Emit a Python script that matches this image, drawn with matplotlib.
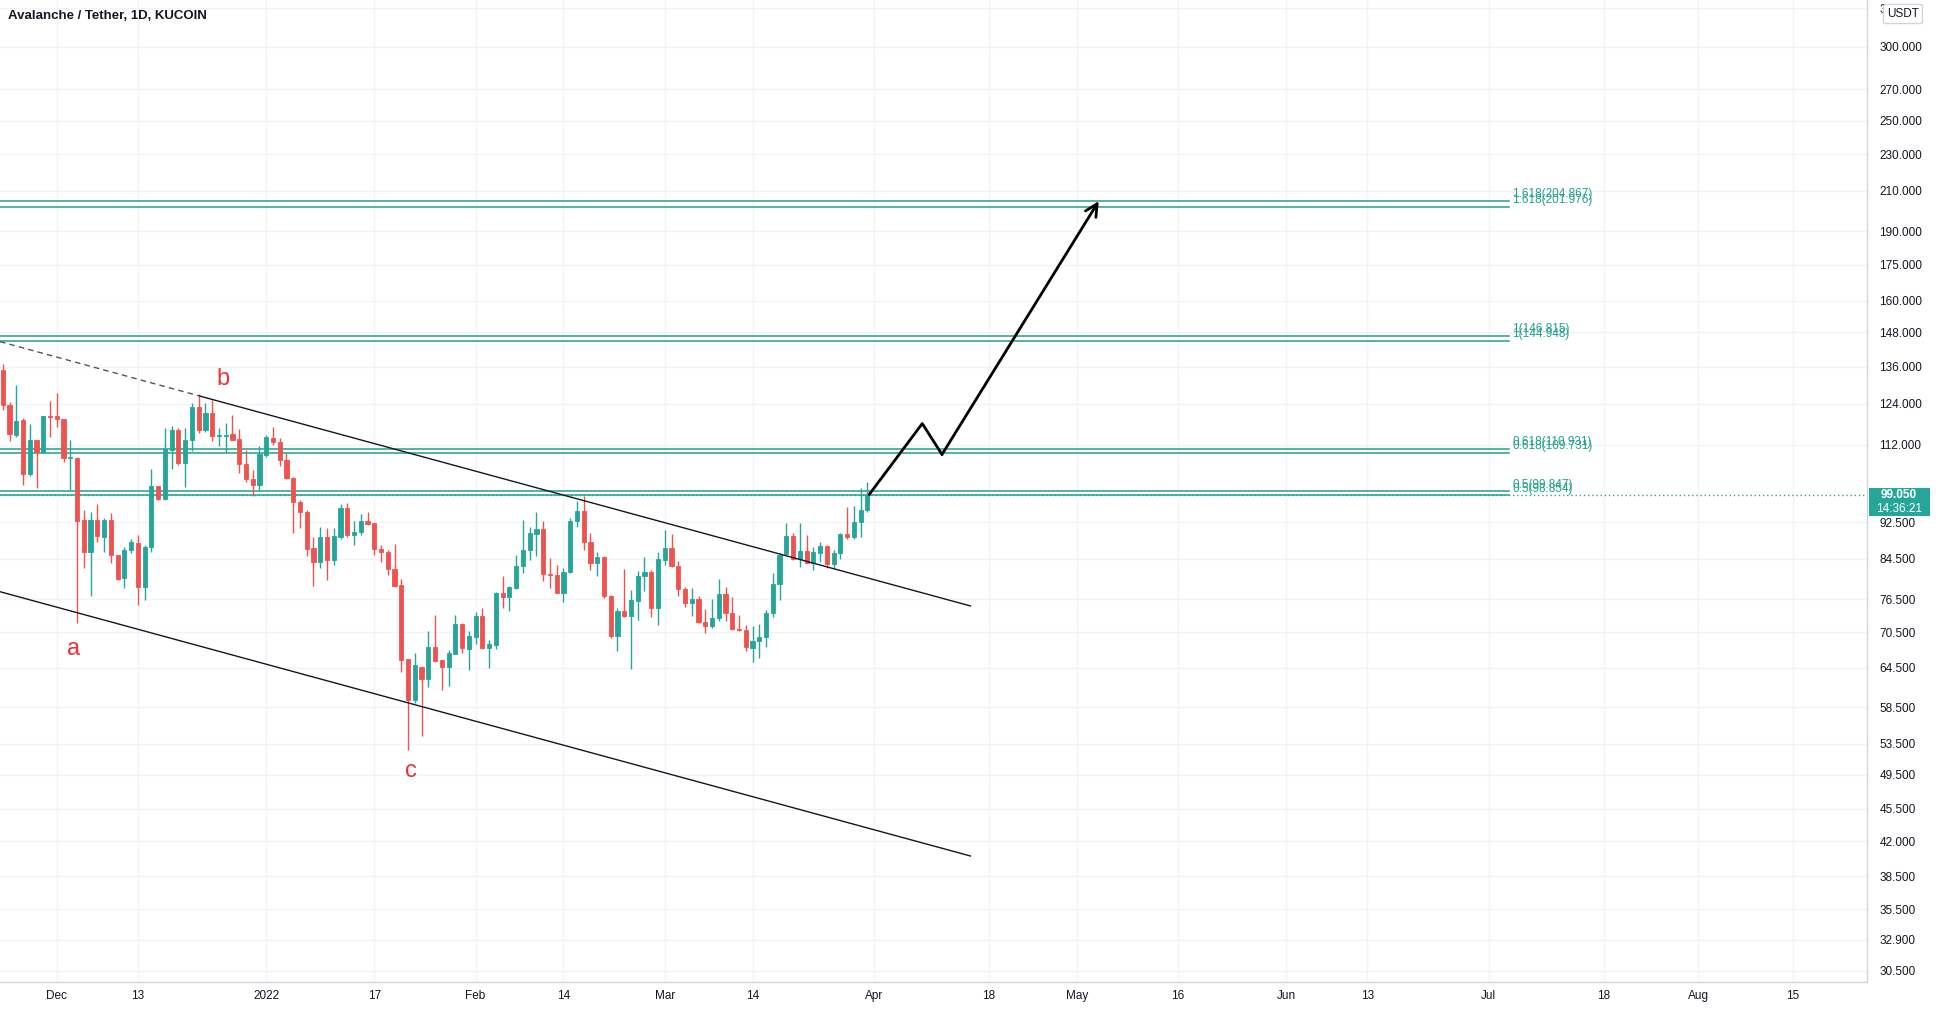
import matplotlib
matplotlib.use('Agg')
import matplotlib.pyplot as plt
import matplotlib.dates as mdates
from matplotlib.ticker import FixedLocator, NullLocator
from matplotlib.patches import Rectangle
import numpy as np
import pandas as pd

plt.rcParams['font.family'] = ['Liberation Sans', 'DejaVu Sans']

title = "Avalanche / Tether, 1D, KUCOIN"
start_date = "2021-11-23"

opens = [134.9, 123.7, 114.8, 119.2, 104.2, 113.4, 110.2, 120.4, 120.3, 119.4,
         108.4, 108.5, 93.1, 86.0, 93.1, 89.3, 93.1, 85.3, 80.6, 86.3,
         87.9, 78.9, 87.0, 101.3, 97.9, 110.7, 116.1, 107.2, 113.4, 123.1,
         116.3, 121.3, 114.6, 114.6, 115.0, 113.7, 106.9, 102.9, 101.5, 109.3,
         113.9, 112.7, 108.0, 103.2, 97.2, 95.0, 86.8, 83.8, 89.3, 84.3,
         89.3, 95.9, 89.7, 90.3, 92.8, 92.3, 86.6, 85.9, 82.4, 79.2,
         66.0, 59.6, 64.6, 62.8, 68.0, 65.8, 64.6, 66.8, 71.9, 67.6,
         69.7, 73.3, 67.7, 68.3, 77.6, 76.8, 78.7, 83.0, 86.3, 89.8,
         91.0, 81.4, 81.1, 77.7, 81.7, 92.7, 95.2, 88.0, 83.6, 84.9,
         77.1, 69.8, 74.3, 73.3, 76.2, 80.9, 81.8, 74.9, 84.3, 86.8,
         83.0, 78.4, 75.7, 76.5, 72.3, 71.5, 73.0, 77.4, 73.9, 71.0,
         70.8, 67.7, 68.9, 69.6, 73.9, 79.4, 85.5, 89.4, 84.4, 86.2,
         83.7, 85.8, 87.3, 83.4, 85.7, 89.9, 89.3, 92.5, 95.4]
highs = [136.9, 124.7, 129.9, 119.7, 118.0, 113.4, 120.4, 124.9, 127.5, 119.5,
         113.4, 108.8, 95.4, 95.0, 96.7, 93.4, 94.6, 85.3, 87.1, 88.7,
         89.7, 87.5, 105.6, 101.3, 116.9, 117.4, 116.7, 116.7, 124.2, 127.1,
         124.2, 125.2, 116.7, 118.2, 120.7, 116.5, 110.7, 105.3, 111.7, 114.8,
         117.2, 113.9, 109.8, 103.4, 97.8, 95.4, 89.3, 91.5, 91.2, 91.2,
         96.7, 97.1, 92.7, 94.5, 94.9, 92.4, 87.5, 86.4, 87.7, 80.4,
         66.0, 66.9, 64.6, 70.6, 73.6, 65.8, 67.5, 73.6, 72.1, 70.6,
         74.1, 74.8, 69.2, 77.9, 80.9, 79.0, 85.3, 93.1, 91.5, 94.9,
         92.7, 84.7, 83.3, 82.6, 93.5, 97.4, 98.8, 90.0, 86.0, 85.0,
         77.2, 74.9, 82.4, 78.3, 81.9, 84.9, 82.1, 85.9, 90.8, 89.9,
         84.1, 78.8, 78.6, 77.0, 74.6, 76.5, 80.4, 78.8, 76.9, 73.6,
         71.7, 71.5, 71.9, 74.5, 81.6, 85.7, 92.4, 90.0, 92.3, 89.7,
         87.1, 88.2, 87.5, 86.4, 90.0, 96.0, 96.3, 100.7, 102.1]
lows = [122.2, 113.0, 114.3, 101.5, 103.6, 100.6, 109.8, 114.1, 117.2, 107.5,
        100.2, 72.1, 82.6, 77.0, 88.2, 86.0, 83.6, 80.2, 78.6, 85.7,
        75.4, 76.4, 86.0, 97.8, 97.8, 105.5, 106.6, 101.0, 110.4, 115.5,
        115.8, 113.0, 111.6, 109.8, 113.4, 104.5, 102.3, 98.6, 100.2, 108.8,
        112.0, 106.2, 102.9, 90.0, 91.2, 85.0, 79.1, 82.6, 80.2, 83.3,
        88.7, 89.3, 87.5, 89.7, 91.8, 85.3, 83.9, 81.2, 78.8, 63.9,
        52.6, 59.1, 54.5, 61.6, 65.5, 61.1, 61.7, 66.8, 66.9, 64.2,
        68.5, 67.6, 64.5, 67.6, 74.9, 74.2, 78.4, 81.6, 84.3, 85.0,
        79.9, 78.6, 77.6, 76.0, 81.6, 91.5, 86.4, 82.2, 80.9, 76.7,
        69.4, 67.2, 73.2, 64.4, 72.7, 78.1, 73.2, 71.8, 83.3, 82.9,
        77.0, 75.0, 73.3, 72.1, 70.3, 71.2, 72.5, 72.4, 70.9, 70.6,
        67.2, 65.5, 66.1, 68.0, 73.2, 76.4, 85.5, 84.3, 82.9, 83.6,
        82.2, 83.9, 82.6, 82.6, 84.4, 88.7, 88.7, 89.1, 94.8]
closes = [123.7, 115.0, 118.9, 104.2, 113.4, 110.2, 120.4, 120.0, 119.4, 108.5,
          108.7, 92.8, 86.0, 93.1, 89.5, 93.1, 85.3, 80.4, 86.4, 88.0,
          78.9, 87.1, 101.3, 97.9, 110.8, 116.1, 107.1, 113.4, 123.1, 116.1,
          121.3, 114.6, 114.8, 114.8, 113.4, 106.8, 102.9, 101.5, 109.5, 114.1,
          112.7, 108.0, 103.2, 97.2, 95.0, 86.6, 83.8, 89.3, 84.3, 89.4,
          95.9, 89.7, 90.4, 92.7, 92.1, 86.6, 85.9, 82.4, 79.0, 65.8,
          59.6, 64.9, 62.8, 68.0, 65.7, 64.6, 67.0, 71.9, 67.7, 69.8,
          73.3, 67.7, 68.5, 77.7, 76.8, 78.9, 83.0, 86.4, 90.0, 91.0,
          81.4, 81.1, 77.7, 81.8, 92.8, 95.2, 88.0, 83.6, 84.9, 77.1,
          69.8, 74.3, 73.3, 76.4, 81.0, 81.8, 74.9, 84.5, 86.8, 83.0,
          78.4, 75.7, 76.5, 72.3, 71.5, 73.0, 77.4, 73.9, 71.0, 70.8,
          68.0, 69.0, 69.6, 73.9, 79.4, 85.3, 89.4, 84.4, 86.2, 83.7,
          85.9, 87.3, 83.4, 85.7, 89.9, 89.3, 92.5, 95.4, 99.05]

last_price = 99.05
countdown = "14:36:21"

# Fibonacci levels (two overlapping sets)
fib_levels = [204.867, 201.976, 146.815, 144.948, 110.931, 109.731, 99.847, 98.854]
fib_labels = ["1.618(204.867)", "1.618(201.976)", "1(146.815)", "1(144.948)",
              "0.618(110.931)", "0.618(109.731)", "0.5(99.847)", "0.5(98.854)"]
fib_end = "2022-07-04"

# channel lines: (start date, start price, end date, end price)
upper_line = ("2021-11-22 14:00", 144.65, "2022-04-15 06:00", 75.2)
lower_line = ("2021-11-22 14:00", 77.9, "2022-04-15 06:00", 40.5)
upper_dash_until = "2021-12-22 05:00"

# projected path
path_dates = ["2022-03-31 06:00", "2022-04-08 03:00", "2022-04-11 01:00", "2022-05-04 06:00"]
path_prices = [99.05, 118.1, 109.4, 204.8]

wave_labels = ["a", "b", "c"]
wave_dates = ["2021-12-03 13:00", "2021-12-25 16:00", "2022-01-22 10:00"]
wave_prices = [67.6, 131.9, 50.0]

y_ticks = [330, 300, 270, 250, 230, 210, 190, 175, 160, 148, 136, 124, 112,
           92.5, 84.5, 76.5, 70.5, 64.5, 58.5, 53.5, 49.5, 45.5, 42, 38.5,
           35.5, 32.9, 30.5]
x_tick_dates = ["2021-12-01", "2021-12-13", "2022-01-01", "2022-01-17", "2022-02-01",
                "2022-02-14", "2022-03-01", "2022-03-14", "2022-04-01", "2022-04-18",
                "2022-05-01", "2022-05-16", "2022-06-01", "2022-06-13", "2022-07-01",
                "2022-07-18", "2022-08-01", "2022-08-15"]
x_tick_labels = ["Dec", "13", "2022", "17", "Feb", "14", "Mar", "14", "Apr", "18",
                 "May", "16", "Jun", "13", "Jul", "18", "Aug", "15"]

UP = '#26a69a'
DOWN = '#ef5350'
FIB = '#22a08e'
TEXT = '#131722'

W, H = 1936, 1010
fig = plt.figure(figsize=(W / 100, H / 100), dpi=100)
fig.patch.set_facecolor('white')
ax = fig.add_axes([0, 28 / H, 1867 / W, 982 / H])
ax.set_yscale('log')

base = mdates.date2num(pd.Timestamp("2021-12-01"))
ax.set_xlim(base - 8.41, base + 267.98)
ax.set_ylim(29.65, 336.9)

dates = mdates.date2num(pd.date_range(start_date, periods=len(opens), freq='D'))
o = np.array(opens); h = np.array(highs); l = np.array(lows); c = np.array(closes)
cols = np.where(c >= o, UP, DOWN)
ax.vlines(dates, l, h, colors=cols, lw=1, zorder=3)
bot = np.minimum(o, c); top = np.maximum(o, c)
ax.bar(dates, top - bot, bottom=bot, width=0.62, color=cols, edgecolor=cols,
       linewidth=0.6, zorder=4)

# fib lines
x0 = ax.get_xlim()[0]
xf = mdates.date2num(pd.Timestamp(fib_end))
for lev, lab in zip(fib_levels, fib_labels):
    ax.plot([x0, xf], [lev, lev], color=FIB, lw=1.1, zorder=2)
    ax.text(xf + 0.45, lev * 1.002, lab, color=FIB, fontsize=8.5, va='bottom', ha='left', zorder=5)

# last price line
ax.axhline(last_price, color=UP, lw=1, ls=(0, (1, 2)), zorder=2)

# channel lines
def line_pts(spec):
    d0, p0, d1, p1 = spec
    return (mdates.date2num(pd.Timestamp(d0)), p0, mdates.date2num(pd.Timestamp(d1)), p1)

ux0, up0, ux1, up1 = line_pts(upper_line)
xm = mdates.date2num(pd.Timestamp(upper_dash_until))
pm = np.exp(np.interp(xm, [ux0, ux1], [np.log(up0), np.log(up1)]))
ax.plot([ux0, xm], [up0, pm], color='#555555', lw=1, ls=(0, (4, 3)), zorder=5)
ax.plot([xm, ux1], [pm, up1], color=TEXT, lw=1, zorder=5)
lx0, lp0, lx1, lp1 = line_pts(lower_line)
ax.plot([lx0, lx1], [lp0, lp1], color=TEXT, lw=1, zorder=5)

# projected path
pd_num = mdates.date2num(pd.to_datetime(path_dates))
ax.plot(pd_num[:-1], path_prices[:-1], color='black', lw=2, zorder=6, solid_capstyle='round')
ax.annotate('', xy=(pd_num[-1], path_prices[-1]), xytext=(pd_num[-2], path_prices[-2]),
            arrowprops=dict(arrowstyle='->', lw=2, color='black', mutation_scale=22,
                            shrinkA=0, shrinkB=0), zorder=6)

for lab, d, p in zip(wave_labels, wave_dates, wave_prices):
    ax.text(mdates.date2num(pd.Timestamp(d)), p, lab, color='#e8313a', fontsize=17,
            ha='center', va='center', zorder=6)

# axes styling
ax.yaxis.tick_right()
ax.yaxis.set_major_locator(FixedLocator(y_ticks))
ax.yaxis.set_minor_locator(NullLocator())
ax.set_yticklabels([f"{v:.3f}" for v in y_ticks])
ax.set_xticks(mdates.date2num(pd.to_datetime(x_tick_dates)))
ax.set_xticklabels(x_tick_labels)
ax.xaxis.set_minor_locator(NullLocator())
ax.tick_params(axis='y', length=0, pad=9, labelsize=8.5, labelcolor=TEXT)
ax.tick_params(axis='x', length=0, pad=6, labelsize=8.5, labelcolor=TEXT)
ax.grid(True, color='#f2f4f9', lw=1, zorder=0)
ax.set_axisbelow(True)
for s in ['top', 'left']:
    ax.spines[s].set_visible(False)
for s in ['right', 'bottom']:
    ax.spines[s].set_color('#d1d4dc')
    ax.spines[s].set_linewidth(1)

# title
fig.text(8 / W, 1 - 16 / H, title, fontsize=9.5, fontweight='bold', color=TEXT,
         ha='left', va='center')

# price label box
fig.patches.append(Rectangle((1869 / W, 1 - 516 / H), 61 / W, 28 / H,
                             transform=fig.transFigure, facecolor=UP, edgecolor='none', zorder=10))
fig.text(1899 / W, 1 - 495 / H, f"{last_price:.3f}", color='white', fontsize=8.5,
         fontweight='bold', ha='center', va='center', zorder=11)
fig.text(1899 / W, 1 - 509 / H, countdown, color='white', fontsize=8.5,
         ha='center', va='center', zorder=11)

# USDT box
fig.text(1903 / W, 1 - 14 / H, "USDT", color=TEXT, fontsize=8.5, ha='center', va='center',
         zorder=11, bbox=dict(boxstyle='round,pad=0.3,rounding_size=0.2', fc='white', ec='#d1d4dc', lw=1))

fig.savefig('out.png', dpi=100, facecolor='white')
